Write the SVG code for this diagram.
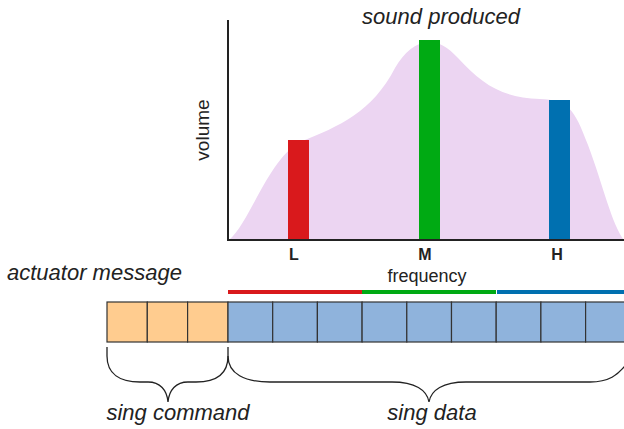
<svg xmlns="http://www.w3.org/2000/svg" width="624" height="429" viewBox="0 0 624 429">
<style>
.t{font-family:"Liberation Sans",Arial,sans-serif;fill:#222}
.it{font-style:italic;font-size:22px}
.b{font-weight:bold;font-size:16px;text-anchor:middle}
.cmd{fill:#ffcc8f;stroke:#333;stroke-width:1.2}
.dat{fill:#8fb3dc;stroke:#333;stroke-width:1.2}
.brace{fill:none;stroke:#222;stroke-width:1.3}
</style>
<rect width="624" height="429" fill="#fff"/>
<g id="chart">
<path d="M229,240 C250,222 268,160 300,142 C340,126 372,112 395,68 C410,42 433,30 458,58 C482,84 502,98 540,99 C568,100 574,108 588,145 C603,185 612,225 624,240 Z" fill="#ecd5f2"/>
<rect x="288" y="140" width="21" height="100" fill="#d9191c"/>
<rect x="419" y="40" width="21" height="200" fill="#00aa13"/>
<rect x="549" y="100" width="21" height="140" fill="#0070b0"/>
<path d="M228,20 V240 H624" fill="none" stroke="#222" stroke-width="2"/>
<text class="t it" x="441" y="24" text-anchor="middle">sound produced</text>
<text class="t" x="209" y="130" font-size="19" text-anchor="middle" transform="rotate(-90 209 130)">volume</text>
<text class="t b" x="294" y="260">L</text>
<text class="t b" x="425" y="260">M</text>
<text class="t b" x="557" y="260">H</text>
<text class="t" x="427" y="281.5" font-size="18" text-anchor="middle">frequency</text>
</g>
<g id="bands">
<line x1="228" y1="292" x2="362" y2="292" stroke="#d9191c" stroke-width="4"/>
<line x1="362" y1="292" x2="496" y2="292" stroke="#00aa13" stroke-width="4"/>
<line x1="497" y1="292" x2="624" y2="292" stroke="#0070b0" stroke-width="4"/>
</g>
<text class="t it" x="7" y="280" font-size="21.5">actuator message</text>
<g id="message">
<rect class="cmd" x="107" y="302" width="40.3" height="40"/>
<rect class="cmd" x="147.3" y="302" width="40.3" height="40"/>
<rect class="cmd" x="187.6" y="302" width="40.4" height="40"/>
<rect class="dat" x="228" y="302" width="44.7" height="40"/>
<rect class="dat" x="272.7" y="302" width="44.7" height="40"/>
<rect class="dat" x="317.4" y="302" width="44.7" height="40"/>
<rect class="dat" x="362.1" y="302" width="44.7" height="40"/>
<rect class="dat" x="406.8" y="302" width="44.7" height="40"/>
<rect class="dat" x="451.5" y="302" width="44.7" height="40"/>
<rect class="dat" x="496.2" y="302" width="44.7" height="40"/>
<rect class="dat" x="540.9" y="302" width="44.7" height="40"/>
<rect class="dat" x="585.6" y="302" width="44.7" height="40"/>
</g>
<g id="braces">
<path class="brace" d="M107,347 L107,356 C107,374 120,382 140,382 L148,382 C160,382 167,390 168,402 C169,390 176,382 188,382 L196,382 C216,382 228,374 228,356 L228,347"/>
<path class="brace" d="M228,356 C228,374 245,382 270,382 L392,382 C415,382 427,390 429,402 C431,390 443,382 466,382 L590,382 C608,382 618,376 628,362"/>
</g>
<text class="t it" x="178" y="420" text-anchor="middle">sing command</text>
<text class="t it" x="432" y="420" text-anchor="middle">sing data</text>
</svg>
